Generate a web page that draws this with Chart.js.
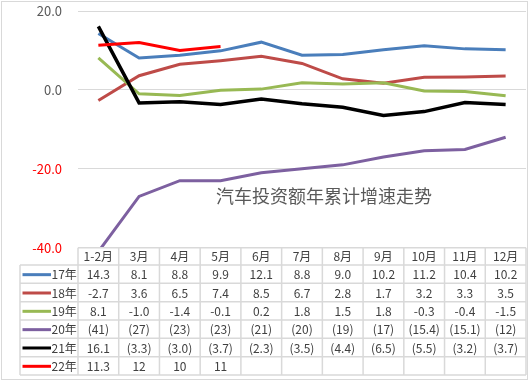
<!DOCTYPE html>
<html><head><meta charset="utf-8">
<script src="https://cdn.jsdelivr.net/npm/chart.js@4"></script>
<style>html,body{margin:0;padding:0;background:#fff}#wrap{width:529px;height:381px;position:relative}</style>
</head><body><div id="wrap"><canvas id="c" width="529" height="381"></canvas></div>
<script>
const categories = ['1-2月','3月','4月','5月','6月','7月','8月','9月','10月','11月','12月'];
const seriesNames = ['17年','18年','19年','20年','21年','22年'];
const y17 = [14.3, 8.1, 8.8, 9.9, 12.1, 8.8, 9.0, 10.2, 11.2, 10.4, 10.2];
const y18 = [-2.7, 3.6, 6.5, 7.4, 8.5, 6.7, 2.8, 1.7, 3.2, 3.3, 3.5];
const y19 = [8.1, -1.0, -1.4, -0.1, 0.2, 1.8, 1.5, 1.8, -0.3, -0.4, -1.5];
const y20 = [-41, -27, -23, -23, -21, -20, -19, -17, -15.4, -15.1, -12];
const y21 = [16.1, -3.3, -3.0, -3.7, -2.3, -3.5, -4.4, -6.5, -5.5, -3.2, -3.7];
const y22 = [11.3, 12, 10, 11, null, null, null, null, null, null, null];
const yMin = -40, yMax = 20, yStep = 20;
const chartTitle = '汽车投资额年累计增速走势';

const seriesValues = [y17, y18, y19, y20, y21, y22];
const seriesColors = ['#4A7EBB','#BE4B48','#98B954','#7D60A0','#000000','#FF0000'];
const labelStyles = ['fixed','fixed','fixed','paren','parenFixed','raw'];

function fmt(v, style){
  if (v === null || v === undefined) return '';
  if (style === 'fixed') return v.toFixed(1);
  if (style === 'paren') return v < 0 ? '(' + Math.abs(v) + ')' : String(v);
  if (style === 'parenFixed') return v < 0 ? '(' + Math.abs(v).toFixed(1) + ')' : v.toFixed(1);
  return String(v);
}

const FONT = '"Noto Sans CJK SC", "Noto Sans", sans-serif';

const tablePlugin = {
  id: 'tbl',
  afterDraw(chart){
    const ctx = chart.ctx, ca = chart.chartArea, xs = chart.scales.x;
    const n = categories.length;
    const colW = xs.getPixelForValue(1) - xs.getPixelForValue(0);
    const gridLeft = xs.getPixelForValue(0) - colW/2;
    const gridRight = gridLeft + colW*n;
    const tableLeft = 20;
    const headTop = ca.bottom;
    const rowTop0 = 265;
    const rowH = 18.33;
    const rows = seriesNames.length;
    const tableBottom = rowTop0 + rowH*rows;
    ctx.save();
    ctx.strokeStyle = '#D9D9D9';
    ctx.lineWidth = 1.5;
    ctx.beginPath();
    ctx.moveTo(gridLeft, headTop); ctx.lineTo(gridRight, headTop);
    for (let r = 0; r <= rows; r++){
      const y = rowTop0 + rowH*r;
      ctx.moveTo(tableLeft, y); ctx.lineTo(gridRight, y);
    }
    for (let i = 0; i <= n; i++){
      const x = gridLeft + colW*i;
      ctx.moveTo(x, headTop); ctx.lineTo(x, tableBottom);
    }
    ctx.moveTo(tableLeft, rowTop0); ctx.lineTo(tableLeft, tableBottom);
    ctx.stroke();

    ctx.fillStyle = '#404040';
    ctx.font = '12px ' + FONT;
    ctx.textAlign = 'center';
    ctx.textBaseline = 'middle';
    for (let i = 0; i < n; i++){
      ctx.fillText(categories[i], xs.getPixelForValue(i), (headTop + rowTop0)/2 + 0.5);
    }
    for (let r = 0; r < rows; r++){
      const cy = rowTop0 + rowH*r + rowH/2 + 0.5;
      ctx.strokeStyle = seriesColors[r];
      ctx.lineWidth = 3;
      ctx.beginPath();
      ctx.moveTo(22.5, cy); ctx.lineTo(51, cy);
      ctx.stroke();
      ctx.textAlign = 'left';
      ctx.fillStyle = '#404040';
      ctx.fillText(seriesNames[r], 51.5, cy);
      ctx.textAlign = 'center';
      for (let i = 0; i < n; i++){
        ctx.fillText(fmt(seriesValues[r][i], labelStyles[r]), xs.getPixelForValue(i), cy);
      }
    }
    ctx.fillStyle = '#595959';
    ctx.font = '18px ' + FONT;
    ctx.textAlign = 'center';
    ctx.fillText(chartTitle, 324, 196);
    ctx.strokeStyle = '#D9D9D9';
    ctx.lineWidth = 1;
    ctx.strokeRect(1.5, 1.5, 526, 378);
    ctx.restore();
  }
};

const datasets = seriesNames.map((name, i) => ({
  label: name,
  data: seriesValues[i],
  borderColor: seriesColors[i],
  backgroundColor: seriesColors[i],
  borderWidth: i === 4 ? 3.5 : 3,
  pointRadius: 0,
  pointHoverRadius: 0,
  tension: 0,
  fill: false,
  spanGaps: false,
  order: seriesNames.length - i
}));

new Chart(document.getElementById('c'), {
  type: 'line',
  data: { labels: categories, datasets },
  plugins: [tablePlugin],
  options: {
    responsive: false,
    animation: false,
    devicePixelRatio: 1,
    layout: { padding: { left: 0, right: 3, top: 11, bottom: 133.3 } },
    plugins: { legend: { display: false }, tooltip: { enabled: false }, title: { display: false } },
    scales: {
      x: { type: 'category', offset: true, display: false },
      y: {
        min: yMin, max: yMax,
        afterFit(axis){ axis.width = 78; axis.paddingTop = 0; axis.paddingBottom = 0; },
        border: { display: false },
        grid: { color: '#D9D9D9', lineWidth: 1, drawTicks: false },
        ticks: {
          stepSize: yStep,
          padding: 16,
          font: { family: FONT, size: 13 },
          color: (c) => c.tick.value < 0 ? '#FF0000' : '#595959',
          callback: (v) => Number(v).toFixed(1)
        }
      }
    }
  }
});
</script></body></html>
